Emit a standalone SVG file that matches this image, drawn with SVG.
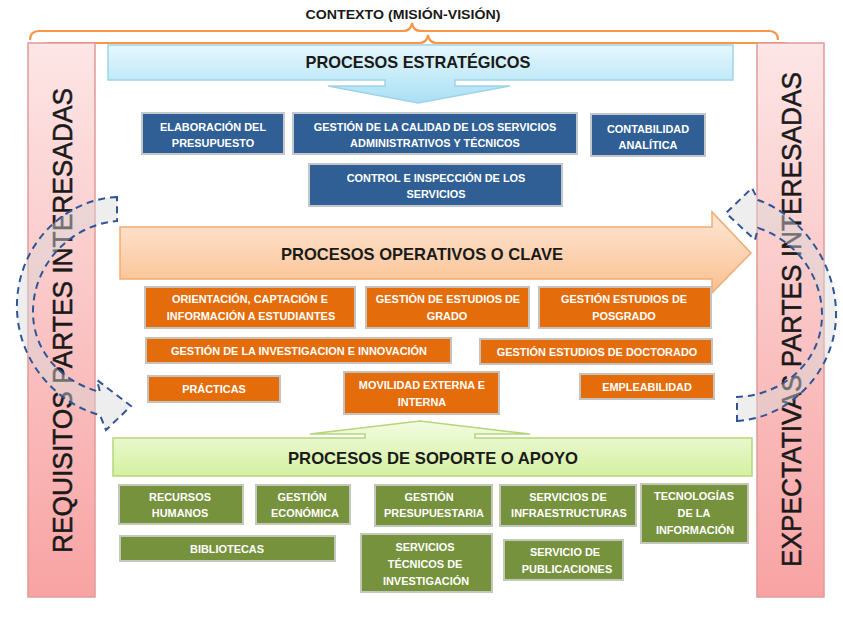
<svg xmlns="http://www.w3.org/2000/svg" width="843" height="618" viewBox="0 0 843 618">
<defs>
<linearGradient id="pink" x1="0" y1="0" x2="0" y2="1"><stop offset="0" stop-color="#fde6e6"/><stop offset="1" stop-color="#f8a3a3"/></linearGradient>
<linearGradient id="cyan" x1="0" y1="0" x2="0" y2="1"><stop offset="0" stop-color="#e6f7fd"/><stop offset="1" stop-color="#a9e0f5"/></linearGradient>
<linearGradient id="peach" x1="0" y1="0" x2="0" y2="1"><stop offset="0" stop-color="#fde7d6"/><stop offset="1" stop-color="#fbc08f"/></linearGradient>
<linearGradient id="lime" x1="0" y1="0" x2="0" y2="1"><stop offset="0" stop-color="#f3fce0"/><stop offset="1" stop-color="#d4f0a2"/></linearGradient>
<style>
text{font-family:"Liberation Sans",Arial,sans-serif;font-weight:bold}
.bx text{fill:#fff;font-size:11.5px;text-anchor:middle}
.blue rect{fill:#2f5f95;stroke:#c4c8cc;stroke-width:2}
.org rect{fill:#e46c0a;stroke:#c8c2bc;stroke-width:2}
.grn rect{fill:#76923c;stroke:#c4c8bc;stroke-width:2}
.title{font-size:17px;fill:#1a1a1a;text-anchor:middle}
.vert{font-size:27px;fill:#1a1a1a;stroke:#1a1a1a;stroke-width:0.5;font-weight:normal}
.brace{fill:none;stroke:#f79646;stroke-width:2.2}
.cyc{fill:#d9d9d9;fill-opacity:0.45;stroke:#2f5597;stroke-width:2;stroke-dasharray:7 5}
</style>
</defs>
<rect width="843" height="618" fill="#fff"/>

<g id="contexto">
<text x="403" y="19" style="font-size:13px;fill:#1a1a1a;text-anchor:middle" textLength="195" lengthAdjust="spacingAndGlyphs">CONTEXTO (MISIÓN-VISIÓN)</text>
<path class="brace" d="M30,40 Q30,31 39,31 L403,31 Q411,31 412,23 Q413,31 421,31 L769,31 Q778,31 778,40"/>
<path class="brace" d="M40,52 Q40,43 49,43 L419,43 Q427,43 428,35 Q429,43 437,43 L783,43 Q792,43 792,52"/>
</g>

<g id="requisitos">
<rect x="28" y="43" width="67" height="554" fill="url(#pink)" stroke="#e09a9a" stroke-width="1.5"/>
<text class="vert" transform="translate(72,553) rotate(-90)" textLength="465" lengthAdjust="spacingAndGlyphs">REQUISITOS  PARTES INTERESADAS</text>
</g>
<g id="expectativas">
<rect x="757" y="43" width="67" height="554" fill="url(#pink)" stroke="#e09a9a" stroke-width="1.5"/>
<text class="vert" transform="translate(801,567) rotate(-90)" textLength="495" lengthAdjust="spacingAndGlyphs">EXPECTATIVAS  PARTES INTERESADAS</text>
</g>

<g id="estrategicos">
<path d="M108,45 L733,45 L733,80 L455,80 L455,86 L510,86 L418,103 L328,86 L385,86 L385,80 L108,80 Z" fill="url(#cyan)" stroke="#9fd3e8" stroke-width="1.5"/>
<text class="title" x="418" y="68" textLength="225" lengthAdjust="spacingAndGlyphs">PROCESOS ESTRATÉGICOS</text>
</g>

<g id="e1" class="bx blue"><rect x="142" y="113" width="142" height="41"/><text transform="translate(213,131) scale(.95,1)">ELABORACIÓN DEL</text><text transform="translate(213,147) scale(.95,1)">PRESUPUESTO</text></g>
<g id="e2" class="bx blue"><rect x="293" y="113" width="284" height="41"/><text transform="translate(435,131) scale(.95,1)">GESTIÓN DE LA CALIDAD DE LOS SERVICIOS</text><text transform="translate(435,147) scale(.95,1)">ADMINISTRATIVOS Y TÉCNICOS</text></g>
<g id="e3" class="bx blue"><rect x="591" y="114" width="114" height="42"/><text transform="translate(648,133) scale(.95,1)">CONTABILIDAD</text><text transform="translate(648,149) scale(.95,1)">ANALÍTICA</text></g>
<g id="e4" class="bx blue"><rect x="309" y="164" width="253" height="42"/><text transform="translate(436,182) scale(.95,1)">CONTROL E INSPECCIÓN DE LOS</text><text transform="translate(436,198) scale(.95,1)">SERVICIOS</text></g>

<g id="operativos">
<path d="M120,227 L712,227 L712,212 L751,253 L712,293 L712,279 L120,279 Z" fill="url(#peach)" stroke="#f3ab72" stroke-width="1.5"/>
<text class="title" x="422" y="260" textLength="282" lengthAdjust="spacingAndGlyphs">PROCESOS OPERATIVOS O CLAVE</text>
</g>

<g id="o1" class="bx org"><rect x="145" y="287" width="210" height="41"/><text transform="translate(250,303) scale(.95,1)">ORIENTACIÓN, CAPTACIÓN E</text><text transform="translate(251,320) scale(.95,1)">INFORMACIÓN A ESTUDIANTES</text></g>
<g id="o2" class="bx org"><rect x="366" y="287" width="163" height="41"/><text transform="translate(448,303) scale(.95,1)">GESTIÓN DE ESTUDIOS DE</text><text transform="translate(447,320) scale(.95,1)">GRADO</text></g>
<g id="o3" class="bx org"><rect x="539" y="287" width="172" height="41"/><text transform="translate(624,303) scale(.95,1)">GESTIÓN ESTUDIOS DE</text><text transform="translate(624,320) scale(.95,1)">POSGRADO</text></g>
<g id="o4" class="bx org"><rect x="146" y="338" width="305" height="25"/><text transform="translate(299,355) scale(.95,1)">GESTIÓN DE LA INVESTIGACION E INNOVACIÓN</text></g>
<g id="o5" class="bx org"><rect x="480" y="339" width="232" height="25"/><text transform="translate(597,356) scale(.95,1)">GESTIÓN ESTUDIOS DE DOCTORADO</text></g>
<g id="o6" class="bx org"><rect x="148" y="376" width="132" height="26"/><text transform="translate(214,393) scale(.95,1)">PRÁCTICAS</text></g>
<g id="o7" class="bx org"><rect x="344" y="372" width="155" height="42"/><text transform="translate(422,389) scale(.95,1)">MOVILIDAD EXTERNA E</text><text transform="translate(422,406) scale(.95,1)">INTERNA</text></g>
<g id="o8" class="bx org"><rect x="580" y="374" width="134" height="25"/><text transform="translate(647,391) scale(.95,1)">EMPLEABILIDAD</text></g>

<g id="soporte">
<path d="M113,438 L365,438 L365,434 L310,434 L420,421 L530,434 L475,434 L475,438 L752,438 L752,476 L113,476 Z" fill="url(#lime)" stroke="#b5d67a" stroke-width="1.5"/>
<text class="title" x="433" y="464" textLength="290" lengthAdjust="spacingAndGlyphs">PROCESOS DE SOPORTE O APOYO</text>
</g>

<g id="s1" class="bx grn"><rect x="119" y="485" width="124" height="39"/><text transform="translate(180,501) scale(.95,1)">RECURSOS</text><text transform="translate(180,517) scale(.95,1)">HUMANOS</text></g>
<g id="s2" class="bx grn"><rect x="256" y="485" width="94" height="39"/><text transform="translate(302,501) scale(.95,1)">GESTIÓN</text><text transform="translate(305,517) scale(.95,1)">ECONÓMICA</text></g>
<g id="s3" class="bx grn"><rect x="375" y="485" width="117" height="41"/><text transform="translate(429,501) scale(.95,1)">GESTIÓN</text><text transform="translate(434,517) scale(.95,1)">PRESUPUESTARIA</text></g>
<g id="s4" class="bx grn"><rect x="500" y="485" width="136" height="41"/><text transform="translate(568,501) scale(.95,1)">SERVICIOS DE</text><text transform="translate(569,517) scale(.95,1)">INFRAESTRUCTURAS</text></g>
<g id="s5" class="bx grn"><rect x="641" y="484" width="107" height="59"/><text transform="translate(694,500) scale(.95,1)">TECNOLOGÍAS</text><text transform="translate(694,517) scale(.95,1)">DE LA</text><text transform="translate(695,534) scale(.95,1)">INFORMACIÓN</text></g>
<g id="s6" class="bx grn"><rect x="120" y="536" width="215" height="25"/><text transform="translate(227,553) scale(.95,1)">BIBLIOTECAS</text></g>
<g id="s7" class="bx grn"><rect x="361" y="534" width="131" height="58"/><text transform="translate(425,551) scale(.95,1)">SERVICIOS</text><text transform="translate(425,568) scale(.95,1)">TÉCNICOS DE</text><text transform="translate(426,585) scale(.95,1)">INVESTIGACIÓN</text></g>
<g id="s8" class="bx grn"><rect x="504" y="540" width="119" height="40"/><text transform="translate(565,556) scale(.95,1)">SERVICIO DE</text><text transform="translate(567,573) scale(.95,1)">PUBLICACIONES</text></g>

<g id="connectors">
<path class="cyc" d="M117,197 C60,200 15,250 17,310 C19,365 60,405 100,415 L106,430 L131,406 L97,380 L100,392 C62,382 33,352 33,312 C33,265 70,225 117,221 Z"/>
<path class="cyc" d="M737,421 C790,418 838,370 836,310 C834,260 800,215 758,200 L752,188 L726,213 L755,240 L758,228 C795,240 822,275 822,315 C822,360 785,395 737,397 Z"/>
</g>
</svg>
